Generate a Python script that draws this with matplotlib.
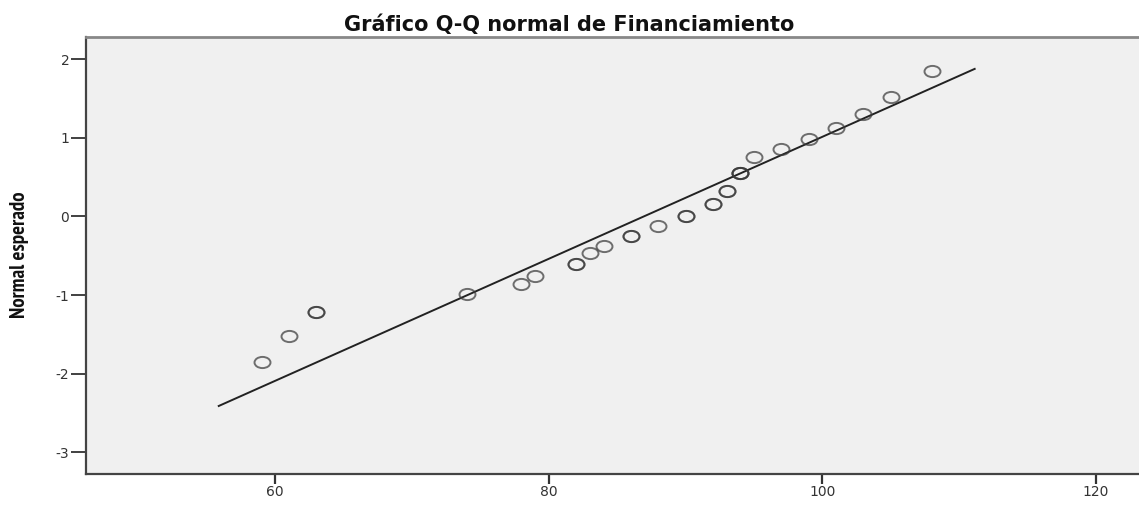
import numpy as np
import matplotlib
matplotlib.use("Agg")
import matplotlib.pyplot as plt
from matplotlib.path import Path
from matplotlib.transforms import Affine2D
from matplotlib import font_manager

# Observed values of Financiamiento (distinct) and how many cases share each value
financiamiento = [59, 61, 63, 74, 78, 79, 82, 83, 84, 86, 88,
                  90, 92, 93, 94, 95, 97, 99, 101, 103, 105, 108]
frecuencia = [1, 1, 2, 1, 1, 1, 2, 1, 1, 2, 1,
              2, 2, 2, 3, 1, 1, 1, 1, 1, 1, 1]
# Expected normal value for each distinct observation
normal_esperado = [-1.849, -1.518, -1.211, -0.989, -0.865, -0.753, -0.600,
                   -0.460, -0.372, -0.245, -0.121, 0.000, 0.163, 0.329,
                   0.553, 0.753, 0.865, 0.989, 1.131, 1.300, 1.518, 1.849]

# Range covered by the reference line
linea_x = [55.8, 111.2]

x_ticks = [60, 80, 100, 120]
y_ticks = [-3, -2, -1, 0, 1, 2]

titulo = "Gráfico Q-Q normal de Financiamiento"
etiqueta_y = "Normal esperado"

# Reference line from the sample mean and standard deviation
muestra = np.repeat(financiamiento, frecuencia)
media = muestra.mean()
desv = muestra.std(ddof=1)
lx = np.array(linea_x)
ly = (lx - media) / desv

instaladas = {f.name for f in font_manager.fontManager.ttflist}


def elegir(opciones, defecto="DejaVu Sans"):
    for nombre in opciones:
        if nombre in instaladas:
            return nombre
    return defecto


fuente_angosta = elegir(["Liberation Sans Narrow", "Arial Narrow", "PT Sans Narrow",
                         "Archivo Narrow", "Roboto Condensed", "Fira Sans Condensed",
                         "IBM Plex Sans Condensed", "Encode Sans Condensed"])

W, H = 1139, 507
fig = plt.figure(figsize=(W / 100, H / 100), dpi=100)
fig.patch.set_facecolor("white")

left, bottom, top = 86 / W, (H - 473.5) / H, (H - 37.3) / H
ax = fig.add_axes([left, bottom, 1.0 - left, top - bottom])
ax.set_facecolor("#f0f0f0")

ax.plot(lx, ly, color="#222222", lw=1.4, zorder=2, solid_capstyle="butt")

# Slightly flattened open circles
circ = Path.unit_circle()
elipse = circ.transformed(Affine2D().scale(1.0, 0.7))
for xv, zv, n in zip(financiamiento, normal_esperado, frecuencia):
    for _ in range(n):
        ax.plot([xv], [zv], linestyle="none", marker=elipse, markersize=11.5,
                markerfacecolor="none", markeredgecolor="#3a3a3a",
                markeredgewidth=1.4, alpha=0.72, zorder=3)

ax.set_xlim(46.16, 123.15)
ax.set_ylim(-3.27, 2.28)
ax.set_xticks(x_ticks)
ax.set_yticks(y_ticks)
ax.set_xticklabels([str(v) for v in x_ticks])
ax.set_yticklabels([str(v) for v in y_ticks])

ax.tick_params(axis="y", direction="out", length=11, width=1.3,
               color="#333333", labelcolor="#333333", labelsize=10, pad=1)
ax.tick_params(axis="x", direction="out", length=7, width=1.6,
               color="#333333", labelcolor="#333333", labelsize=10, pad=1)
for lab in ax.get_xticklabels() + ax.get_yticklabels():
    lab.set_family("DejaVu Sans")

for s in ("left", "bottom"):
    ax.spines[s].set_color("#444444")
    ax.spines[s].set_linewidth(1.6)
ax.spines["top"].set_color("#888888")
ax.spines["top"].set_linewidth(2.0)
ax.spines["right"].set_visible(False)

fig.text(569.5 / W, (H - 30.7) / H, titulo, ha="center", va="baseline",
         fontsize=15, fontweight="bold", family="DejaVu Sans", color="#111111")
fig.text(20 / W, (H - 255) / H, etiqueta_y, rotation=90, ha="center",
         va="center", fontsize=15, fontweight="bold",
         family=fuente_angosta, color="#111111")

fig.savefig("out.png", dpi=100, facecolor="white")
